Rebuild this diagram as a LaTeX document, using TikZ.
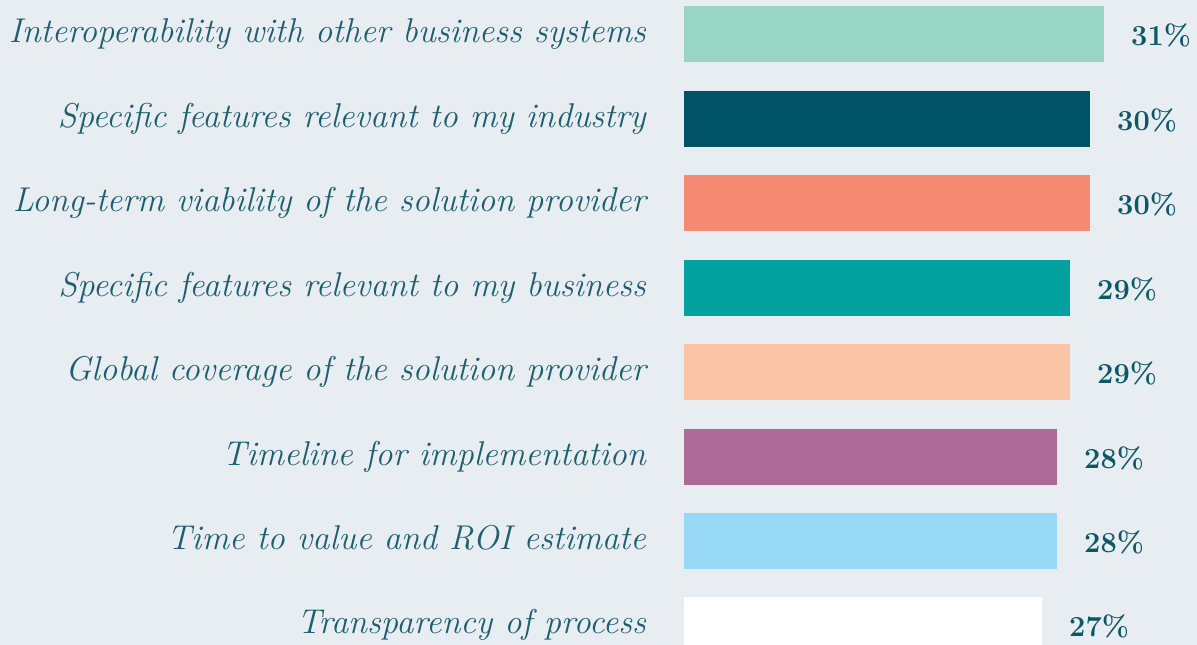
\documentclass[tikz,border=0pt]{standalone}
\definecolor{bg}{HTML}{E8EDF2}
\definecolor{txt}{HTML}{1D5F6E}
\definecolor{pct}{HTML}{0E5767}
\definecolor{cA}{HTML}{98D5C3}
\definecolor{cB}{HTML}{005364}
\definecolor{cC}{HTML}{F68B74}
\definecolor{cD}{HTML}{00A19F}
\definecolor{cE}{HTML}{FBC4A6}
\definecolor{cF}{HTML}{AB6A97}
\definecolor{cG}{HTML}{98D9F7}
\definecolor{cH}{HTML}{FFFFFF}
\begin{document}
\begin{tikzpicture}[x=1pt,y=-1pt,
  lbl/.style={anchor=base east,inner sep=0pt,text=txt,font=\fontsize{34.4}{40}\selectfont\itshape},
  val/.style={anchor=base west,inner sep=0pt,text=pct,font=\fontsize{29}{32}\selectfont\bfseries}]
\fill[bg] (0,0) rectangle (1197,645);
\useasboundingbox (0,0) rectangle (1197,645);
\clip (0,0) rectangle (1197,645);
\foreach \i/\top/\r/\c/\t/\v in {
 1/6/1104/cA/{Interoperability with other business systems}/31\%,
 2/91/1090/cB/{Specific features relevant to my industry}/30\%,
 3/175/1090/cC/{Long-term viability of the solution provider}/30\%,
 4/260/1070/cD/{Specific features relevant to my business}/29\%,
 5/344/1070/cE/{Global coverage of the solution provider}/29\%,
 6/429/1057/cF/{Timeline for implementation}/28\%,
 7/513/1057/cG/{Time to value and ROI estimate}/28\%,
 8/597/1042/cH/{Transparency of process}/27\%}{
  \fill[\c] (684,\top) rectangle (\r,\top+56);
  \coordinate (bar\i) at (\r,\top+28);
  \node[lbl] (lab\i) at (646,\top+36) {\t};
  \node[val] (val\i) at (\r+27,\top+39) {\v};
}
\end{tikzpicture}
\end{document}
